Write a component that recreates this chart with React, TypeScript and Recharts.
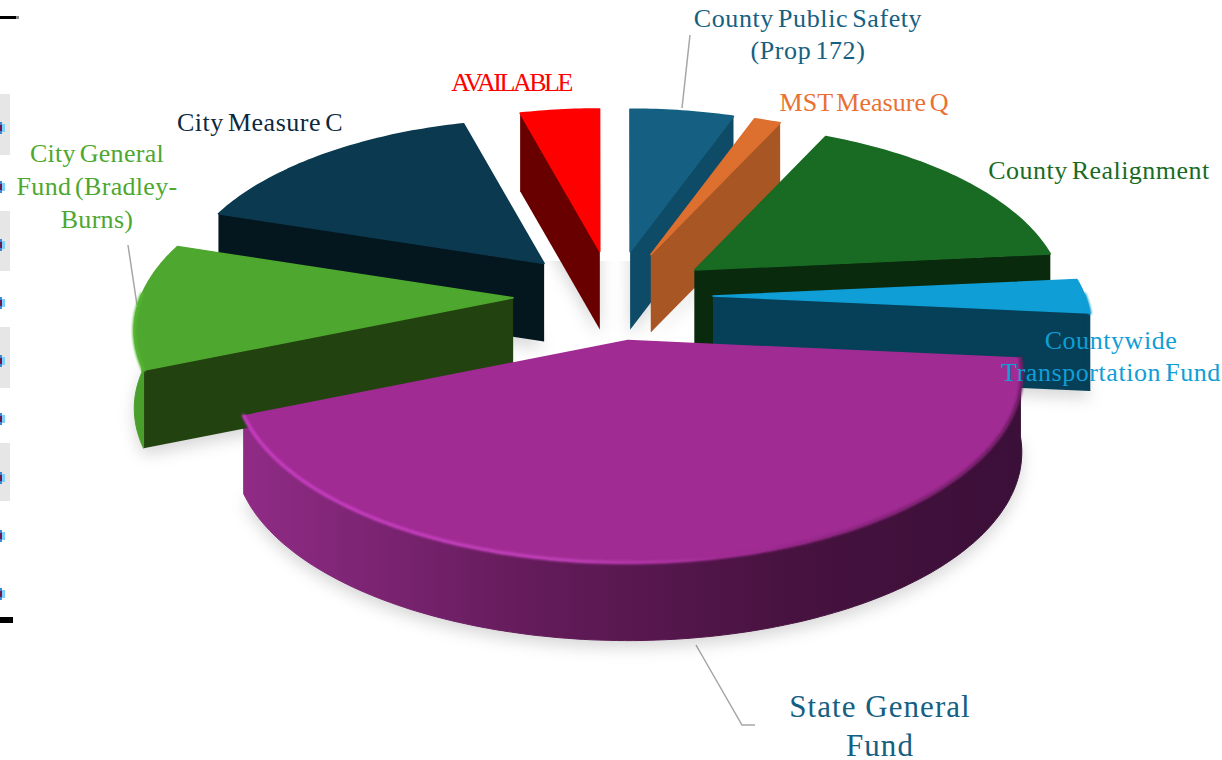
import { PieChart, Pie } from "recharts";

// share of the budget per fund, clockwise starting from City Measure C
const funds = [
  "City Measure C",
  "AVAILABLE",
  "County Public Safety",
  "MST Measure Q",
  "County Realignment",
  "Countywide Transportation Fund",
  "State General Fund",
  "City General Fund (Bradley-Burns)",
];
const shares = [15.8, 4.2, 5.5, 1.4, 16.6, 3.05, 42.2, 11.3];

const topColors = ["#0b3a50", "#ff0000", "#156082", "#dd6f2f", "#196b24", "#0f9ed5", "#a02b93", "#4ea72e"];
const wallColors = ["#04171f", "#690000", "#0e4b66", "#a85623", "#0a2a0e", "#053f58", "url(#stateWall)", "#22430f"];
const rimColors = ["#0b3a50", "#ff0000", "#156082", "#dd6f2f", "#196b24", "#0f9ed5", "url(#stateRim)", "#55b533"];
const outerWallColors = ["#04171f", "#690000", "#0e4b66", "#a85623", "#0a2a0e", "#053f58", "url(#stateWall)", "#4a9e2a"];

const labelLines = [
  ["City Measure C"],
  ["AVAILABLE"],
  ["County Public Safety", "(Prop 172)"],
  ["MST Measure Q"],
  ["County Realignment"],
  ["Countywide", "Transportation Fund"],
  ["State General", "Fund"],
  ["City General", "Fund (Bradley-", "Burns)"],
];
const labelColors = ["#0e2841", "#ff0000", "#156082", "#e97132", "#196b24", "#0f9ed5", "#156082", "#4ea72e"];
const labelAnchors = [
  [260, 131], [511, 91], [808, 27], [864, 111], [1099, 179], [1111, 349], [880, 717], [97, 162],
];
const labelSizes = [26, 26, 26, 26, 26, 26, 31, 26];
const labelSpacing = [0.53, -2.5, 0.6, 0.06, 0.47, 0.56, 1.05, 0.3];
const labelWordGaps = [-3, 0, -3, -3, -3, -3, 0, -3];
const lineGaps = [32, 32, 32, 32, 32, 32, 39, 33];

const leaders = [
  "M690 35L682 108",
  "M128 245L137 305",
  "M696 645L742 725L755 725",
];

const markRows = [128, 187, 245, 303, 361, 419, 478, 536, 594];
const greyRows = [[94, 61], [211, 60], [327, 61], [443, 58]];

const WIDTH = 1222;
const HEIGHT = 760;
const PERSP = 0.18;
const SQUASH = 0.47;
const EXPLODE = 100;
const EXPLODE_SQUASH = 0.45;
const EXPLODE_PERSP = 0.15;
const DEPTH = 78;
const RAD = Math.PI / 180;

function project(ax: number, ay: number, r: number, deg: number) {
  const X = Math.cos(deg * RAD);
  const Y = -Math.sin(deg * RAD);
  const s = 1 / (1 - PERSP * Y);
  return [ax + r * X * s, ay + r * SQUASH * Y * s];
}

function sliceGeometry(p: any) {
  const mid = (p.startAngle + p.endAngle) / 2;
  const ax = p.cx + EXPLODE * Math.cos(mid * RAD);
  const ay = p.cy - EXPLODE * EXPLODE_SQUASH * Math.sin(mid * RAD);
  // slices pushed towards the viewer come out a bit larger
  const forward = (-Math.sin(mid * RAD) * EXPLODE) / p.outerRadius;
  const r = p.outerRadius / (1 - EXPLODE_PERSP * forward);
  const arc: number[][] = [];
  const front: number[][] = [];
  const steps = Math.max(4, Math.ceil(Math.abs(p.endAngle - p.startAngle)));
  for (let i = 0; i <= steps; i++) {
    const deg = p.startAngle + ((p.endAngle - p.startAngle) * i) / steps;
    const pt = project(ax, ay, r, deg);
    arc.push(pt);
    if (Math.sin(deg * RAD) < 0.02) front.push(pt);
  }
  return { ax, ay, arc, front };
}

const line = (pts: number[][]) => pts.map((q, i) => `${i ? "L" : "M"}${q[0].toFixed(1)} ${q[1].toFixed(1)}`).join("");
const quad = (a: number[], b: number[]) =>
  `M${a[0]} ${a[1]}L${b[0]} ${b[1]}L${b[0]} ${b[1] + DEPTH}L${a[0]} ${a[1] + DEPTH}Z`;

function ShadowShape(p: any) {
  const g = sliceGeometry(p);
  const d = line([[g.ax, g.ay], ...g.arc]) + "Z";
  return <path d={d} transform={`translate(0 ${DEPTH + 7})`} fill="#000" fillOpacity={0.16} filter="url(#softShadow)" />;
}

function WallShape(p: any) {
  const i = funds.indexOf(p.payload.name);
  const g = sliceGeometry(p);
  const apex = [g.ax, g.ay];
  const low = g.front.map((q) => [q[0], q[1] + DEPTH]).reverse();
  return (
    <g>
      <path d={quad(apex, g.arc[0])} fill={i === 6 ? "none" : wallColors[i]} />
      <path d={quad(apex, g.arc[g.arc.length - 1])} fill={i === 6 ? "none" : wallColors[i]} />
      {g.front.length > 1 && (
        <path d={line([...g.front, ...low]) + "Z"} fill={outerWallColors[i]} stroke={outerWallColors[i]} strokeWidth={1} strokeLinejoin="round" />
      )}
    </g>
  );
}

function TopShape(p: any) {
  const i = funds.indexOf(p.payload.name);
  const g = sliceGeometry(p);
  return (
    <g>
      <path d={line([[g.ax, g.ay], ...g.arc]) + "Z"} fill={topColors[i]} stroke={topColors[i]} strokeWidth={1.5} strokeLinejoin="round" />
      {g.front.length > 1 && (
        <path d={line(g.front)} fill="none" stroke={rimColors[i]} strokeWidth={3.5} strokeLinecap="round" filter="url(#rimBlur)" />
      )}
    </g>
  );
}

function FundLabel(p: any) {
  const i = p.index;
  const [x, y] = labelAnchors[i];
  return (
    <text
      key={i}
      textAnchor="middle"
      fontFamily="'Liberation Serif', serif"
      fontSize={labelSizes[i]}
      letterSpacing={labelSpacing[i]}
      wordSpacing={labelWordGaps[i]}
      fill={labelColors[i]}
    >
      {labelLines[i].map((t, n) => (
        <tspan key={t} x={x} y={y + n * lineGaps[i]}>
          {t}
        </tspan>
      ))}
    </text>
  );
}

export default function App() {
  const chartData = funds.map((name, i) => ({ name, value: shares[i] }));
  const pieProps = {
    data: chartData,
    dataKey: "value",
    nameKey: "name",
    cx: 613,
    cy: 296,
    innerRadius: 0,
    outerRadius: 372,
    startAngle: -198,
    endAngle: -558,
    isAnimationActive: false,
  };

  return (
    <div style={{ position: "absolute", left: 0, top: 0, width: WIDTH, height: HEIGHT, background: "#fff" }}>
      <PieChart width={WIDTH} height={HEIGHT} margin={{ top: 0, right: 0, bottom: 0, left: 0 }}>
        <defs>
          <linearGradient id="stateWall" gradientUnits="userSpaceOnUse" x1={250} y1={0} x2={1020} y2={0}>
            <stop offset="0" stopColor="#8f2b85" />
            <stop offset="0.35" stopColor="#651c5c" />
            <stop offset="0.7" stopColor="#47123f" />
            <stop offset="1" stopColor="#3a0f38" />
          </linearGradient>
          <linearGradient id="stateRim" gradientUnits="userSpaceOnUse" x1={250} y1={0} x2={1020} y2={0}>
            <stop offset="0" stopColor="#c63cc0" />
            <stop offset="0.4" stopColor="#c040b8" />
            <stop offset="0.62" stopColor="#a02b93" />
            <stop offset="1" stopColor="#6a1d60" />
          </linearGradient>
          <filter id="softShadow" filterUnits="userSpaceOnUse" x={0} y={176} width={WIDTH} height={472}>
            <feGaussianBlur stdDeviation={8} />
          </filter>
          <filter id="rimBlur" filterUnits="userSpaceOnUse" x={0} y={0} width={WIDTH} height={HEIGHT}>
            <feGaussianBlur stdDeviation={0.8} />
          </filter>
        </defs>

        {greyRows.map(([y, h]) => (
          <rect key={y} x={0} y={y} width={10} height={h} fill="#e6e6e6" />
        ))}
        {markRows.map((y) => (
          <g key={y}>
            <rect x={0} y={y - 6} width={2} height={12} fill="#3d89d6" />
            <rect x={0} y={y - 3} width={2} height={6} fill="#6a1a50" />
            <rect x={2} y={y - 4} width={3} height={8} fill="#7fd0ff" />
          </g>
        ))}
        <rect x={0} y={16} width={16} height={3} fill="#000" />
        <rect x={16} y={16} width={3} height={3} fill="#888" />
        <rect x={0} y={617} width={13} height={6} fill="#000" />

        <Pie {...pieProps} shape={ShadowShape} />
        <Pie {...pieProps} shape={WallShape} />
        <Pie {...pieProps} shape={TopShape} label={FundLabel} labelLine={false} />

        {leaders.map((d) => (
          <path key={d} d={d} fill="none" stroke="#a6a6a6" strokeWidth={1.5} />
        ))}
      </PieChart>
    </div>
  );
}
